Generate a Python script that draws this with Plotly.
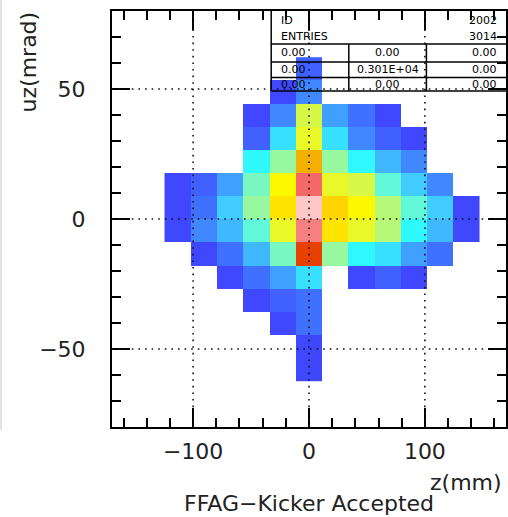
import plotly.graph_objects as go

# 2-D histogram: z (mm) vs uz (mrad), 15 x 18 bins over [-170,170] x [-80,80]
z_centers = [-113.33, -90.67, -68.0, -45.33, -22.67, 0.0, 22.67, 45.33, 68.0, 90.67, 113.33, 136.0]
uz_centers = [-57.78, -48.89, -40.0, -31.11, -22.22, -13.33, -4.44, 4.44, 13.33, 22.22, 31.11, 40.0, 48.89, 57.78]

N = None
counts = [
    [N, N, N, N, N, 4, N, N, N, N, N, N],
    [N, N, N, N, N, 5, N, N, N, N, N, N],
    [N, N, N, N, 5, 13, N, N, N, N, N, N],
    [N, N, N, 5, 9, 14, N, N, N, N, N, N],
    [N, N, 4, 14, 25, 39, N, 5, 6, 5, N, N],
    [N, 5, 14, 29, 55, 105, 59, 44, 40, 25, 13, N],
    [4, 20, 29, 49, 75, 115, 84, 75, 65, 44, 30, 5],
    [5, 14, 35, 60, 85, 120, 90, 80, 65, 50, 34, 5],
    [5, 9, 24, 55, 80, 110, 75, 70, 50, 33, 19, N],
    [N, N, N, 44, 60, 95, 60, 45, 28, 19, N, N],
    [N, N, N, 9, 38, 74, 36, 18, 8, 5, N, N],
    [N, N, N, 4, 19, 70, 23, 13, 5, N, N, N],
    [N, N, N, N, 5, 18, N, N, N, N, N, N],
    [N, N, N, N, N, 8, N, N, N, N, N, N],
]

x_ticks = [-100, 0, 100]
y_ticks = [-50, 0, 50]
hist_id = "2002"

# colour levels, 5 counts per level
palette = ["#4048ff", "#4060ff", "#4070ff", "#4088ff", "#40a0ff", "#40b8ff",
           "#40ccff", "#38e0ff", "#30f8ff", "#60f8d8", "#78f8c0", "#98f8a0",
           "#b8f878", "#d8f848", "#e8f828", "#fcf800", "#ffe400", "#ffd400",
           "#f4b000", "#f08000", "#e84000", "#f46868", "#f48080", "#ffc8c8"]
n_lev = len(palette)
colorscale = []
for k, c in enumerate(palette):
    colorscale.append([k / n_lev, c])
    colorscale.append([(k + 1) / n_lev, c])

entries = sum(v for row in counts for v in row if v is not None)

W, H = 508, 517
ML, MR, MT, MB = 112, 0, 11, 90
PW, PH = W - ML - MR, H - MT - MB


def px(x):
    return (x - ML) / PW


def py(y):
    return 1 - (y - MT) / PH


FONT = "DejaVu Sans"
TEXT_COLOR = "#222222"

fig = go.Figure(go.Heatmap(
    x=z_centers, y=uz_centers, z=counts,
    colorscale=colorscale, zmin=0.5, zmax=0.5 + 5 * n_lev,
    showscale=False, hoverinfo="skip",
))

shapes = []
# statistics box
line = dict(color="black", width=1.5)
shapes.append(dict(type="line", xref="paper", yref="paper", x0=px(272), x1=px(272), y0=py(11), y1=py(91), line=line))
for yy in (44, 62, 77.5, 91):
    shapes.append(dict(type="line", xref="paper", yref="paper", x0=px(272), x1=px(512), y0=py(yy), y1=py(yy), line=line))
for xx in (350, 428):
    shapes.append(dict(type="line", xref="paper", yref="paper", x0=px(xx), x1=px(xx), y0=py(44), y1=py(91), line=line))

# dotted grid drawn over the cells
grid = dict(color="#111111", width=1.6, dash="1.6px,5px")
for t in x_ticks:
    shapes.append(dict(type="line", xref="x", yref="paper", x0=t, x1=t, y0=0, y1=1, line=grid, layer="above"))
for t in y_ticks:
    shapes.append(dict(type="line", xref="paper", yref="y", x0=0, x1=1, y0=t, y1=t, line=grid, layer="above"))

# window edge on the left
shapes.append(dict(type="line", xref="paper", yref="paper", x0=px(0.5), x1=px(0.5), y0=py(0), y1=py(430),
                   line=dict(color="#c4c4c4", width=1)))

ann = []


def txt(s, x, y, anchor, size=11):
    ann.append(dict(text=s, xref="paper", yref="paper", x=px(x), y=py(y), xanchor=anchor, yanchor="middle",
                    showarrow=False, font=dict(family=FONT, size=size, color="black")))


def sci(v):
    # PAW-style 0.xxxE+yy formatting
    mant, ex = ("%.2E" % v).split("E")
    return "0.%sE+%02d" % (mant.replace(".", ""), int(ex) + 1)


txt("ID", 280, 20, "left")
txt(hist_id, 501, 20, "right")
txt("ENTRIES", 280, 36, "left")
txt(str(entries), 501, 36, "right")
for yy, mid in ((53, "0.00"), (69.5, sci(entries)), (84.5, "0.00")):
    txt("0.00", 280, yy, "left")
    txt(mid, 389, yy, "center")
    txt("0.00", 501, yy, "right")

ann.append(dict(text="uz(mrad)", xref="paper", yref="paper", x=px(28), y=py(62), textangle=-90,
                xanchor="center", yanchor="middle", showarrow=False,
                font=dict(family=FONT, size=22, color=TEXT_COLOR)))
ann.append(dict(text="z(mm)", xref="paper", yref="paper", x=px(506), y=py(482),
                xanchor="right", yanchor="middle", showarrow=False,
                font=dict(family=FONT, size=22, color=TEXT_COLOR)))
ann.append(dict(text="FFAG\u2212Kicker Accepted", xref="paper", yref="paper", x=px(310), y=py(504),
                xanchor="center", yanchor="middle", showarrow=False,
                font=dict(family=FONT, size=22, color=TEXT_COLOR)))

axis_common = dict(
    showgrid=False, zeroline=False, showline=True, linecolor="black", linewidth=2,
    mirror="ticks", ticks="inside", tickcolor="black", tickwidth=1.5,
    tickfont=dict(family=FONT, size=22, color=TEXT_COLOR),
)

fig.update_layout(
    width=W, height=H,
    margin=dict(l=ML, r=MR, t=MT, b=MB, pad=0),
    paper_bgcolor="white", plot_bgcolor="white",
    xaxis=dict(range=[-170, 170], tickvals=x_ticks, ticklen=19, ticklabelstandoff=4,
               minor=dict(dtick=20, tick0=0, ticks="inside", ticklen=9, tickwidth=1.5, tickcolor="black"),
               **axis_common),
    yaxis=dict(range=[-80, 80], tickvals=y_ticks, ticklen=18, ticklabelstandoff=20,
               minor=dict(dtick=10, tick0=0, ticks="inside", ticklen=9, tickwidth=1.5, tickcolor="black"),
               **axis_common),
    shapes=shapes,
    annotations=ann,
    showlegend=False,
)

fig.write_html("out.html")
